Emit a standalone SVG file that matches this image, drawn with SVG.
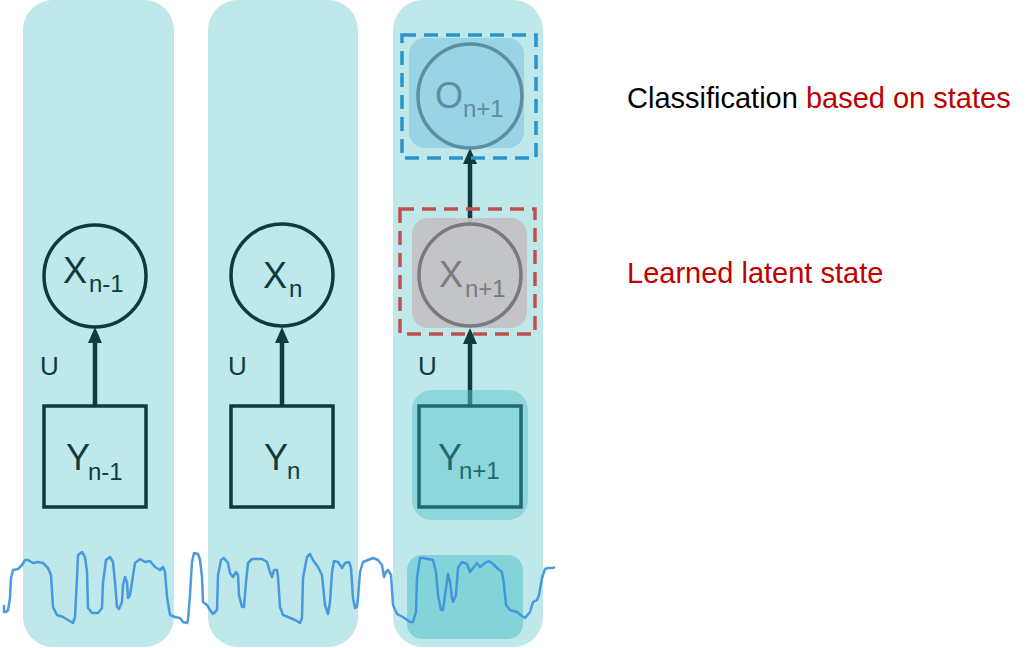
<svg xmlns="http://www.w3.org/2000/svg" width="1031" height="648" viewBox="0 0 1031 648">
<style>
.col{fill:#bfe8ea}
.node{fill:none;stroke:#0f3b3e;stroke-width:3.5}
.lbl{font-family:"Liberation Sans",Arial,sans-serif;fill:#0f3b3e}
.big{font-size:36px}
.sub{font-size:24px}
.u{font-size:26px}
.conn{stroke:#0f3b3e;stroke-width:4.5;fill:none}
.side{font-family:"Liberation Sans",Arial,sans-serif;font-size:29px}
</style>
<defs>
<marker id="ah" markerUnits="userSpaceOnUse" viewBox="0 0 16 14" refX="4" refY="7" markerWidth="16" markerHeight="14" orient="auto">
<path d="M0,0 L16,7 L0,14 z" fill="#0f3b3e"/>
</marker>
</defs>
<rect width="1031" height="648" fill="#ffffff"/>
<g id="columns">
<rect class="col" x="23" y="0" width="151" height="647" rx="30"/>
<rect class="col" x="208" y="0" width="150" height="647" rx="30"/>
<rect class="col" x="393" y="0" width="150" height="647" rx="30"/>
<rect x="407" y="555" width="116" height="84" rx="15" fill="#84d3d9"/>
</g>
<g id="signal">
<polyline fill="none" stroke="#3a8fdd" stroke-width="2.5" stroke-linejoin="round" stroke-opacity="0.9" points="4,605 4,612 6,612 8,610 10,598 11,578 13,570 18,569 22,565 25,560 28,560 33,563 38,562 43,563 48,568 51,575 53,607 57,615 63,617 68,620 73,623 75,617 77,578 78,555 82,552 85,557 87,572 88,608 92,613 98,613 102,608 103,583 106,560 110,557 113,562 115,582 117,607 119,609 122,602 123,585 125,577 127,582 128,598 130,595 132,582 135,563 140,559 145,562 150,561 155,567 160,570 163,567 165,572 167,597 170,615 175,617 180,618 183,622 187,623 188,620 190,595 192,562 194,553 198,554 200,560 202,577 203,602 207,605 210,610 213,614 217,610 218,575 221,560 224,558 228,563 230,573 233,577 236,572 238,575 239,595 242,607 244,607 246,582 248,563 252,559 262,559 267,562 270,572 272,577 274,570 277,570 278,577 280,607 283,615 288,617 295,620 300,623 302,618 303,578 307,557 310,554 313,560 318,567 322,575 325,605 328,614 330,602 332,572 334,561 338,562 342,568 345,563 349,562 351,568 353,598 355,608 357,607 358,598 360,572 363,562 368,560 373,558 378,560 382,565 384,577 386,572 388,570 391,575 393,605 397,614 403,617 410,622 413,622 416,612 417,578 420,558 423,558 428,559 433,560 436,572 438,595 441,610 443,610 446,588 448,574 450,582 452,598 453,602 456,595 458,568 462,562 467,564 470,572 473,568 477,563 480,567 485,563 489,561 493,564 497,568 502,572 504,585 506,605 510,610 517,612 522,616 525,618 530,612 533,602 537,600 539,595 542,578 545,569 548,568 553,568 555,567"/>
</g>
<g id="connectors">
<line class="conn" x1="95" y1="405" x2="95" y2="339" marker-end="url(#ah)"/>
<line class="conn" x1="282" y1="405" x2="282" y2="339" marker-end="url(#ah)"/>
<line class="conn" x1="470" y1="405" x2="470" y2="340" marker-end="url(#ah)"/>
<line class="conn" x1="470" y1="226" x2="470" y2="160" marker-end="url(#ah)"/>
</g>
<g id="label-u">
<text class="lbl u" x="40" y="375">U</text>
<text class="lbl u" x="228" y="375">U</text>
<text class="lbl u" x="418" y="375">U</text>
</g>
<g id="x-n-1">
<circle class="node" cx="95" cy="276" r="51"/>
<text class="lbl big" x="63" y="283">X<tspan class="sub" x="89" y="292">n-1</tspan></text>
</g>
<g id="y-n-1">
<rect class="node" x="44" y="406" width="102" height="101"/>
<text class="lbl big" x="66" y="470">Y<tspan class="sub" x="88" y="480">n-1</tspan></text>
</g>
<g id="x-n">
<circle class="node" cx="282" cy="275" r="51"/>
<text class="lbl big" x="263" y="288">X<tspan class="sub" x="289" y="297">n</tspan></text>
</g>
<g id="y-n">
<rect class="node" x="231" y="406" width="102" height="101"/>
<text class="lbl big" x="264" y="470">Y<tspan class="sub" x="287" y="479">n</tspan></text>
</g>
<g id="y-n1">
<rect x="412" y="390" width="116" height="130" rx="20" fill="#5cc4cc" fill-opacity="0.5"/>
<rect x="419" y="406" width="102" height="101" fill="none" stroke="#1d6a70" stroke-width="3.5"/>
<text class="lbl big" x="438" y="470" style="fill:#1d6a70">Y<tspan class="sub" x="459" y="479">n+1</tspan></text>
</g>
<g id="x-n1">
<rect x="412" y="218" width="115" height="110" rx="16" fill="#c2c1c4" fill-opacity="0.93"/>
<circle cx="470" cy="275" r="51" fill="none" stroke="#7a7a7a" stroke-width="3.5"/>
<text class="lbl big" x="439" y="287" style="fill:#7a7a7a">X<tspan class="sub" x="465" y="297">n+1</tspan></text>
<rect x="400" y="209" width="135" height="125" fill="none" stroke="#c0504d" stroke-width="3.5" stroke-dasharray="14 8"/>
</g>
<g id="o-n1">
<rect x="409" y="38" width="115" height="110" rx="16" fill="#98d3e6"/>
<circle cx="470" cy="96" r="52" fill="none" stroke="#5b8ea0" stroke-width="3.5"/>
<text class="lbl big" x="435" y="108" style="fill:#5b8ea0">O<tspan class="sub" x="463" y="117">n+1</tspan></text>
<rect x="402" y="35" width="134" height="123" fill="none" stroke="#2a93c9" stroke-width="3.5" stroke-dasharray="14 8"/>
</g>
<g id="side-labels">
<text class="side" x="627" y="108" fill="#000000">Classification <tspan fill="#c00000">based on states</tspan></text>
<text class="side" x="627" y="283" fill="#c00000">Learned latent state</text>
</g>
</svg>
